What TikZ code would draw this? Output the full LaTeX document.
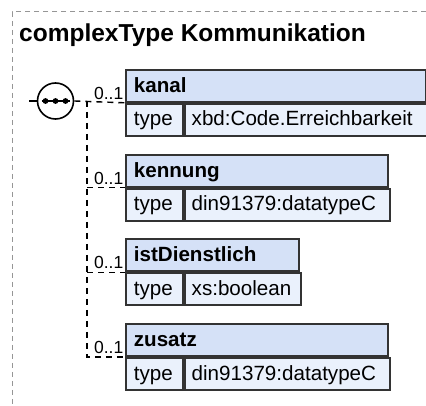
\documentclass[tikz,border=0pt]{standalone}
\usepackage{fontspec}
\setmainfont{Liberation Sans}
\definecolor{hdrfill}{RGB}{213,225,247}
\definecolor{rowfill}{RGB}{234,241,252}
\definecolor{boxline}{RGB}{51,51,51}
\definecolor{frameline}{RGB}{150,150,150}
\tikzset{
  hdr/.style={draw=boxline, line width=1.8pt, fill=hdrfill, anchor=north west, inner xsep=8pt, inner ysep=0pt,
    text height=22.5pt, text depth=9.5pt, align=left, font=\fontsize{20.6}{24}\selectfont\bfseries},
  rowcell/.style={draw=boxline, line width=1.8pt, fill=rowfill, anchor=north west, inner ysep=0pt,
    text height=22pt, text depth=10pt, align=left, font=\fontsize{20.6}{24}\selectfont},
  mult/.style={anchor=base east, inner sep=0pt, font=\fontsize{17.5}{20}\selectfont},
  conn/.style={line width=1.4pt, dash pattern=on 6pt off 5pt},
  frame/.style={draw=frameline, line width=1pt, dash pattern=on 5pt off 4pt}
}
\newcommand\xelem[5]{%
  \node[hdr, text width=#3pt-16pt] (#1h) at (125,#2) {#4};
  \node[rowcell, inner xsep=8pt, text width=41pt] (#1t) at (#1h.south west) {type};
  \node[rowcell, inner xsep=7pt, text width=#3pt-71pt] (#1v) at (#1t.north east) {#5};
}
\begin{document}
\begin{tikzpicture}[x=1pt,y=-1pt]
\useasboundingbox (0,0) rectangle (426,406);
% outer frame
\coordinate (fc) at (12,12);
\draw[frame] (426,12) -- (fc) -- (12,406);
% title
\node[anchor=base west, inner sep=0pt, font=\fontsize{24.5}{29}\selectfont\bfseries] (title) at (19,42) {complexType Kommunikation};
% sequence compositor
\node[circle, draw, line width=1.6pt, fill=white, minimum size=36pt, inner sep=0pt] (seq) at (55.5,101) {};
\coordinate (in) at (29,101);
\draw[line width=1.6pt] (in) -- (seq.west);
\draw[line width=1.6pt] ([xshift=-14pt]seq.center) -- ([xshift=14pt]seq.center);
\foreach \dx in {-10,0,10} \fill ([xshift=\dx pt]seq.center) circle (2.9pt);
% elements
\xelem{kanal}{69}{300}{kanal}{xbd:Code.Erreichbarkeit}
\xelem{kennung}{154}{262}{kennung}{din91379:datatypeC}
\xelem{ist}{238.5}{173}{istDienstlich}{xs:boolean}
\xelem{zusatz}{323.3}{262}{zusatz}{din91379:datatypeC}
% connectors
\coordinate (spine) at (87,101);
\draw[conn] (seq.east) -- (kanalh.south west);
\draw[conn] (spine) -- (spine |- zusatzh.south west) -- (zusatzh.south west);
\draw[conn] (spine |- kennungh.south west) -- (kennungh.south west);
\draw[conn] (spine |- isth.south west) -- (isth.south west);
% multiplicities
\foreach \n in {kanal,kennung,ist,zusatz}
  \node[mult] (\n m) at ([xshift=-1.5pt,yshift=3.5pt]\n h.south west) {0..1};
\end{tikzpicture}
\end{document}
